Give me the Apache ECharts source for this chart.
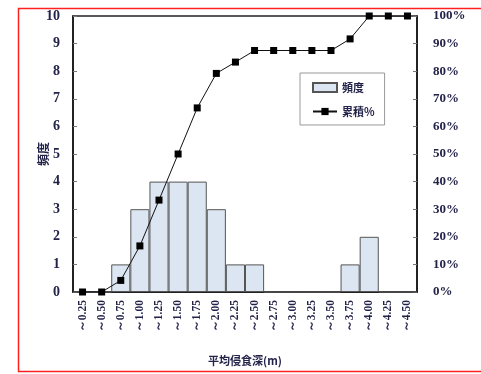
<!DOCTYPE html>
<html><head><meta charset="utf-8">
<script src="https://cdn.jsdelivr.net/npm/echarts@6/dist/echarts.min.js"></script>
<style>html,body{margin:0;padding:0;background:#fff}#c{width:481px;height:374px}</style>
</head><body><div id="c"></div>
<script>
const categories = ['～0.25','～0.50','～0.75','～1.00','～1.25','～1.50','～1.75','～2.00','～2.25','～2.50','～2.75','～3.00','～3.25','～3.50','～3.75','～4.00','～4.25','～4.50'];
const frequency = [0,0,1,3,4,4,4,3,1,1,0,0,0,0,1,2,0,0];
const cumulative = [0,0,4.2,16.7,33.3,50,66.7,79.2,83.3,87.5,87.5,87.5,87.5,87.5,91.7,100,100,100];
const leftTicks = [0,1,2,3,4,5,6,7,8,9,10];
const rightTicks = [0,10,20,30,40,50,60,70,80,90,100];

const txt = '#23234a';
const chart = echarts.init(document.getElementById('c'));
chart.setOption({
  animation: false,
  graphic: [{type:'rect', shape:{x:18.5,y:8.5,width:480,height:363}, style:{fill:'none', stroke:'#ff2020', lineWidth:1.5}, z:100}],
  grid: {left:73, right:64, top:16, bottom:82, show:true, borderColor:'#222', borderWidth:1.5, backgroundColor:'#fff'},
  legend: {
    left:300, top:73, width:101, height:56, orient:'vertical', padding:[9,10,8,12], itemGap:13,
    borderColor:'#999', borderWidth:1, backgroundColor:'#fff',
    itemWidth:24, itemHeight:9,
    textStyle:{fontFamily:'Noto Sans CJK JP', fontSize:11, fontWeight:'bold', color:txt},
    data:[{name:'頻度', icon:'rect'}, {name:'累積%'}]
  },
  xAxis: {
    type:'category', data:categories,
    name:'平均侵食深(m)', nameLocation:'middle', nameGap:63,
    nameTextStyle:{fontFamily:'Noto Sans CJK JP', fontSize:11, fontWeight:'bold', color:txt},
    axisLine:{lineStyle:{color:'#111', width:1.5}},
    axisTick:{inside:true, length:4, lineStyle:{color:'#777'}},
    axisLabel:{rotate:90, fontFamily:'Liberation Serif', fontSize:11.5, fontWeight:'bold', color:txt, margin:8}
  },
  yAxis: [{
    type:'value', min:0, max:10, interval:1,
    name:'頻度', nameLocation:'middle', nameGap:24, nameRotate:90, nameMoveOverlap:false,
    nameTextStyle:{fontFamily:'Noto Sans CJK JP', fontSize:12, fontWeight:'bold', color:txt},
    axisLine:{show:true, lineStyle:{color:'#111', width:1.5}},
    axisTick:{show:true, inside:true, length:4, lineStyle:{color:'#777'}},
    splitLine:{show:false},
    axisLabel:{fontFamily:'Liberation Serif', fontSize:14, fontWeight:'bold', color:txt, margin:13,
      formatter:v => leftTicks.includes(v) ? String(v) : ''}
  },{
    type:'value', min:0, max:100, interval:10, position:'right',
    axisLine:{show:true, lineStyle:{color:'#111', width:1.5}},
    axisTick:{show:true, inside:true, length:4, lineStyle:{color:'#777'}},
    splitLine:{show:false},
    axisLabel:{fontFamily:'Liberation Serif', fontSize:13, fontWeight:'bold', color:txt, margin:16,
      formatter:v => rightTicks.includes(v) ? v + '%' : ''}
  }],
  series: [{
    name:'頻度', type:'bar', data:frequency, barCategoryGap:'0%',
    itemStyle:{color:'#dce6f2', borderColor:'#555', borderWidth:1}
  },{
    name:'累積%', type:'line', yAxisIndex:1, data:cumulative,
    symbol:'rect', symbolSize:7, lineStyle:{color:'#111', width:1}, itemStyle:{color:'#000'}
  }]
});
</script></body></html>
